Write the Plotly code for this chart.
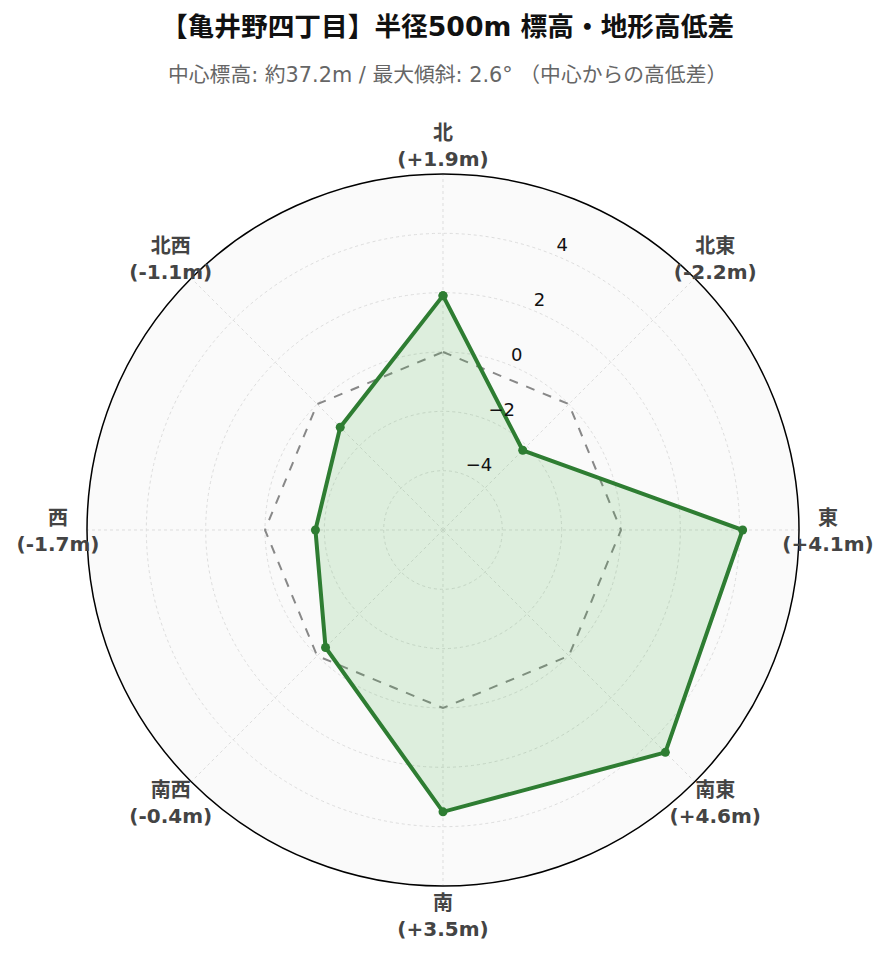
import plotly.graph_objects as go

# 方位と中心からの高低差 (m)
directions = ["北", "北東", "東", "南東", "南", "南西", "西", "北西"]
diffs = [1.9, -2.2, 4.1, 4.6, 3.5, -0.4, -1.7, -1.1]
baseline = [0, 0, 0, 0, 0, 0, 0, 0]
radial_ticks = [-4, -2, 0, 2, 4]

GREEN = "#2e7d32"
FONT = "DejaVu Sans, Noto Sans CJK JP, sans-serif"
R_RANGE = [-6, 6]
TICK_THETA = 22.5  # radial tick labels run between 北 and 北東

labels = [f"{d}<br>({v:+.1f}m)" for d, v in zip(directions, diffs)]
tick_text = [str(t).replace("-", "\u2212") for t in radial_ticks]
theta = directions + directions[:1]

fig = go.Figure()
fig.add_trace(
    go.Scatterpolar(
        r=baseline + baseline[:1],
        theta=theta,
        mode="lines",
        line={"color": "#888888", "width": 2, "dash": "dash"},
        hoverinfo="skip",
    )
)
fig.add_trace(
    go.Scatterpolar(
        r=diffs + diffs[:1],
        theta=theta,
        mode="lines+markers",
        fill="toself",
        fillcolor="rgba(76,175,80,0.17)",
        line={"color": GREEN, "width": 4},
        marker={"color": GREEN, "size": 9},
        name="高低差",
    )
)
# direction labels: centred text on a slightly larger, invisible ring
fig.add_trace(
    go.Scatterpolar(
        r=[1] * len(directions),
        theta=directions,
        mode="text",
        text=labels,
        textposition="middle center",
        textfont={"family": FONT, "size": 20, "color": "#444444", "weight": "bold"},
        cliponaxis=False,
        hoverinfo="skip",
        subplot="polar2",
    )
)
# radial tick labels, horizontal, just above the axis line
fig.add_trace(
    go.Scatterpolar(
        r=radial_ticks,
        theta=[TICK_THETA] * len(radial_ticks),
        mode="text",
        text=tick_text,
        textposition="top right",
        textfont={"family": FONT, "size": 18, "color": "#111111"},
        cliponaxis=False,
        hoverinfo="skip",
        subplot="polar3",
    )
)

# page body has an 8px margin, so the figure is a bit smaller than the window
W, H = 873, 946
PW, PH = 770, 773  # plot area (px)
main_x = [29 / PW, 741 / PW]
main_y = [32 / PH, 744 / PH]
hidden_angular = {
    "rotation": 90,
    "direction": "clockwise",
    "showline": False,
    "showgrid": False,
    "showticklabels": False,
    "ticks": "",
}
fig.update_layout(
    width=W,
    height=H,
    showlegend=False,
    paper_bgcolor="white",
    font={"family": FONT},
    margin={"l": 50, "r": 53, "t": 137, "b": 36},
    title={
        "text": "<b>【亀井野四丁目】半径500m 標高・地形高低差</b>",
        "x": 0.5 + 3 / W,
        "xanchor": "center",
        "y": 1 - 19 / H,
        "yanchor": "middle",
        "font": {"family": FONT, "size": 26.7, "color": "#111111"},
    },
    annotations=[
        {
            "text": "中心標高: 約37.2m / 最大傾斜: 2.6° （中心からの高低差）",
            "xref": "paper",
            "yref": "paper",
            "x": 0.5 + 5 / PW,
            "y": 843 / PH,
            "xanchor": "center",
            "yanchor": "middle",
            "showarrow": False,
            "font": {"family": FONT, "size": 20.8, "color": "#666666"},
        }
    ],
    polar={
        "domain": {"x": main_x, "y": main_y},
        "bgcolor": "#fafafa",
        "radialaxis": {
            "range": R_RANGE,
            "tickvals": radial_ticks,
            "angle": 67.5,
            "showline": False,
            "showticklabels": False,
            "ticks": "",
            "gridcolor": "#dddddd",
            "griddash": "dot",
        },
        "angularaxis": {
            "rotation": 90,
            "direction": "clockwise",
            "categoryarray": directions,
            "showline": True,
            "linecolor": "#000000",
            "linewidth": 1.5,
            "gridcolor": "#dddddd",
            "griddash": "dot",
            "ticks": "",
            "showticklabels": False,
        },
    },
    polar2={
        "domain": {"x": [0, 1], "y": [0, PW / PH]},
        "bgcolor": "rgba(0,0,0,0)",
        "radialaxis": {"range": [0, 1], "visible": False},
        "angularaxis": {**hidden_angular, "categoryarray": directions},
    },
    polar3={
        "domain": {"x": main_x, "y": main_y},
        "bgcolor": "rgba(0,0,0,0)",
        "radialaxis": {"range": R_RANGE, "visible": False},
        "angularaxis": {**hidden_angular, "type": "linear", "thetaunit": "degrees"},
    },
)

fig.write_html("out.html")
